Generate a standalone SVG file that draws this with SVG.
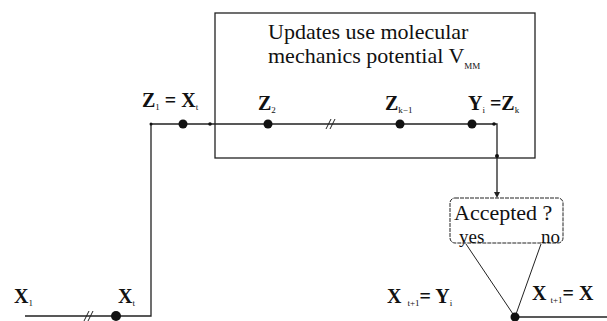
<svg xmlns="http://www.w3.org/2000/svg" width="607" height="321" viewBox="0 0 607 321" font-family="'Liberation Serif', 'DejaVu Serif', serif">
<style>
text{fill:#111}
.t{font-size:22px}
.l{font-size:20px;font-weight:bold}
.a{font-size:22px}
.s{font-size:9px;font-weight:normal}
.ln{stroke:#222;stroke-width:1.3;fill:none}
.thin{stroke:#222;stroke-width:1;fill:none}
.dot{fill:#111}
</style>
<g id="update-box">
<rect x="215" y="13" width="320" height="145" class="ln"/>
<text class="t" x="268" y="39">Updates use molecular</text>
<text class="t" x="268" y="63">mechanics potential V<tspan class="s" dy="6">MM</tspan></text>
</g>
<g id="accept-box">
<rect x="450" y="198" width="113" height="45" rx="5" class="thin" stroke-dasharray="4 1"/>
<text class="a" x="454" y="220">Accepted ?</text>
<text x="459" y="243" font-size="19">yes</text>
<text x="541" y="243" font-size="19">no</text>
</g>
<g id="connectors">
<path d="M25,316 H151 V124 H497 V192" class="ln"/>
<path d="M494,192 L497,198 L500,192 Z" fill="#222"/>
<path d="M466,244 L515,317 L541,244" class="thin"/>
<path d="M515,317 H607" class="ln"/>
<g class="thin">
<path d="M84,321 L89,311 M88,321 L93,311"/>
<path d="M326,129 L331,119 M330,129 L335,119"/>
</g>
</g>
<g id="points">
<circle class="dot" cx="183" cy="124" r="4.5"/>
<circle class="dot" cx="268" cy="124" r="4.5"/>
<circle class="dot" cx="400" cy="124" r="4.5"/>
<circle class="dot" cx="472" cy="124" r="4.5"/>
<circle class="dot" cx="151" cy="124" r="1.5"/>
<circle class="dot" cx="210" cy="124" r="1.8"/>
<circle class="dot" cx="494" cy="124" r="1.8"/>
<circle class="dot" cx="497" cy="156" r="2"/>
<circle class="dot" cx="116" cy="316" r="5"/>
<circle class="dot" cx="515" cy="317" r="4.5"/>
</g>
<g id="labels">
<text class="l" x="142" y="107">Z<tspan class="s" dy="3">1</tspan><tspan dy="-3"> =  X</tspan><tspan class="s" dy="3">t</tspan></text>
<text class="l" x="258" y="110">Z<tspan class="s" dy="3">2</tspan></text>
<text class="l" x="385" y="110">Z<tspan class="s" dy="3">k−1</tspan></text>
<text class="l" x="468" y="110">Y<tspan class="s" dy="3">i</tspan><tspan dy="-3"> =Z</tspan><tspan class="s" dy="3">k</tspan></text>
<text class="l" x="14" y="303">X<tspan class="s" dy="3">1</tspan></text>
<text class="l" x="118" y="303">X<tspan class="s" dy="3">t</tspan></text>
<text class="l" x="387" y="303">X<tspan class="s" dx="6" dy="3">t+1</tspan><tspan dy="-3">=  Y</tspan><tspan class="s" dy="3">i</tspan></text>
<text class="l" x="532" y="300">X<tspan class="s" dx="4" dy="3">t+1</tspan><tspan dy="-3">= X</tspan></text>
</g>
</svg>
